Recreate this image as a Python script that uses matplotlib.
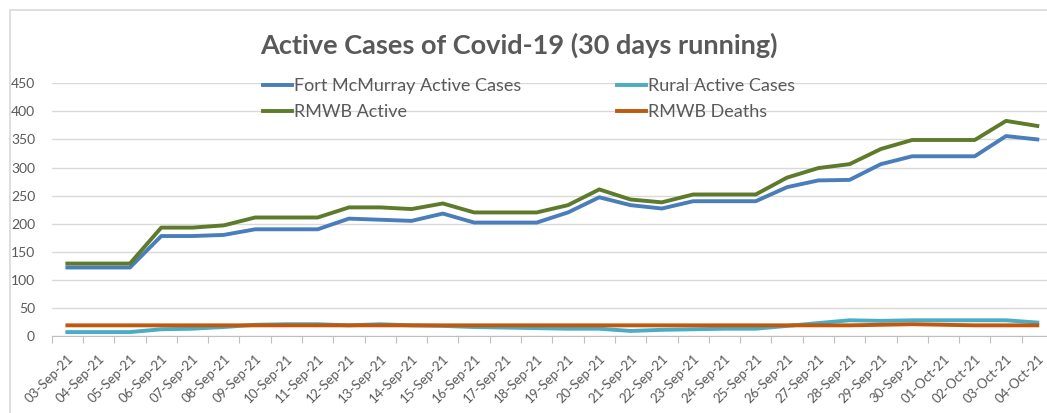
import matplotlib.pyplot as plt
from matplotlib.patches import Rectangle

dates = [
    "03-Sep-21", "04-Sep-21", "05-Sep-21", "06-Sep-21", "07-Sep-21", "08-Sep-21",
    "09-Sep-21", "10-Sep-21", "11-Sep-21", "12-Sep-21", "13-Sep-21", "14-Sep-21",
    "15-Sep-21", "16-Sep-21", "17-Sep-21", "18-Sep-21", "19-Sep-21", "20-Sep-21",
    "21-Sep-21", "22-Sep-21", "23-Sep-21", "24-Sep-21", "25-Sep-21", "26-Sep-21",
    "27-Sep-21", "28-Sep-21", "29-Sep-21", "30-Sep-21", "01-Oct-21", "02-Oct-21",
    "03-Oct-21", "04-Oct-21",
]
fort_mcmurray = [122, 122, 122, 178, 178, 180, 190, 190, 190, 209, 207, 205,
                 218, 202, 202, 202, 220, 247, 233, 227, 240, 240, 240, 265,
                 277, 278, 306, 320, 320, 320, 356, 350]
rural = [7, 7, 7, 12, 13, 16, 20, 21, 21, 19, 21, 19,
         18, 16, 15, 14, 13, 13, 9, 11, 12, 13, 13, 18,
         23, 28, 27, 28, 28, 28, 28, 24]
rmwb_active = [129, 129, 129, 193, 193, 197, 211, 211, 211, 229, 229, 226,
               236, 220, 220, 220, 233, 261, 243, 238, 252, 252, 252, 282,
               299, 306, 333, 349, 349, 349, 383, 374]
rmwb_deaths = [19, 19, 19, 19, 19, 19, 19, 19, 19, 19, 19, 19,
               19, 19, 19, 19, 19, 19, 19, 19, 19, 19, 19, 19,
               19, 19, 20, 21, 20, 19, 19, 19]

GRAY = "#595959"
plt.rcParams["font.family"] = ["Lato", "DejaVu Sans"]

fig = plt.figure(figsize=(10.47, 4.13), dpi=100)
fig.patches.append(Rectangle((10 / 1047, -0.1), 1.2, 1 - 10 / 413 + 0.1,
                             transform=fig.transFigure, fill=False,
                             edgecolor="#d9d9d9", linewidth=1.2))

ax = fig.add_axes([0.0494, 0.1864, 0.9563, 0.6120])
x = range(len(dates))
lw = 2.8
l_fm, = ax.plot(x, fort_mcmurray, color="#4a7ebb", lw=lw, label="Fort McMurray Active Cases")
l_ru, = ax.plot(x, rural, color="#4bacc6", lw=lw, label="Rural Active Cases")
l_ra, = ax.plot(x, rmwb_active, color="#5e7b2c", lw=lw, label="RMWB Active")
l_de, = ax.plot(x, rmwb_deaths, color="#c0580e", lw=lw, label="RMWB Deaths")

ax.set_xlim(-0.5, len(dates) - 0.5)
ax.set_ylim(0, 450)
ax.set_yticks(range(0, 451, 50))
ax.tick_params(axis="y", length=0, labelsize=10, labelcolor=GRAY, pad=12)
ax.grid(axis="y", color="#d9d9d9", linewidth=1)
ax.set_axisbelow(True)

ax.set_xticks([i - 0.5 for i in range(len(dates) + 1)], minor=False)
ax.set_xticklabels([])
ax.set_xticks(list(x), minor=True)
ax.set_xticklabels(dates, minor=True, rotation=45, ha="right",
                   rotation_mode="anchor", fontsize=9.5, color=GRAY)
ax.tick_params(axis="x", which="major", length=5, color="#bfbfbf")
ax.tick_params(axis="x", which="minor", length=0, pad=12)

for side in ["top", "right", "left"]:
    ax.spines[side].set_visible(False)
ax.spines["bottom"].set_color("#bfbfbf")

fig.text(0.496, 0.89, "Active Cases of Covid-19 (30 days running)",
         ha="center", va="center", fontsize=19.5, fontweight="bold", color=GRAY)

leg = ax.legend([l_fm, l_ra, l_ru, l_de],
                ["Fort McMurray Active Cases", "RMWB Active",
                 "Rural Active Cases", "RMWB Deaths"],
                ncol=2, loc="upper left", bbox_to_anchor=(0.195, 1.085),
                frameon=False, fontsize=13, handlelength=1.6, handletextpad=0.1,
                columnspacing=5.3, labelspacing=0.55)
for t in leg.get_texts():
    t.set_color(GRAY)

fig.savefig("out.png", dpi=100)
